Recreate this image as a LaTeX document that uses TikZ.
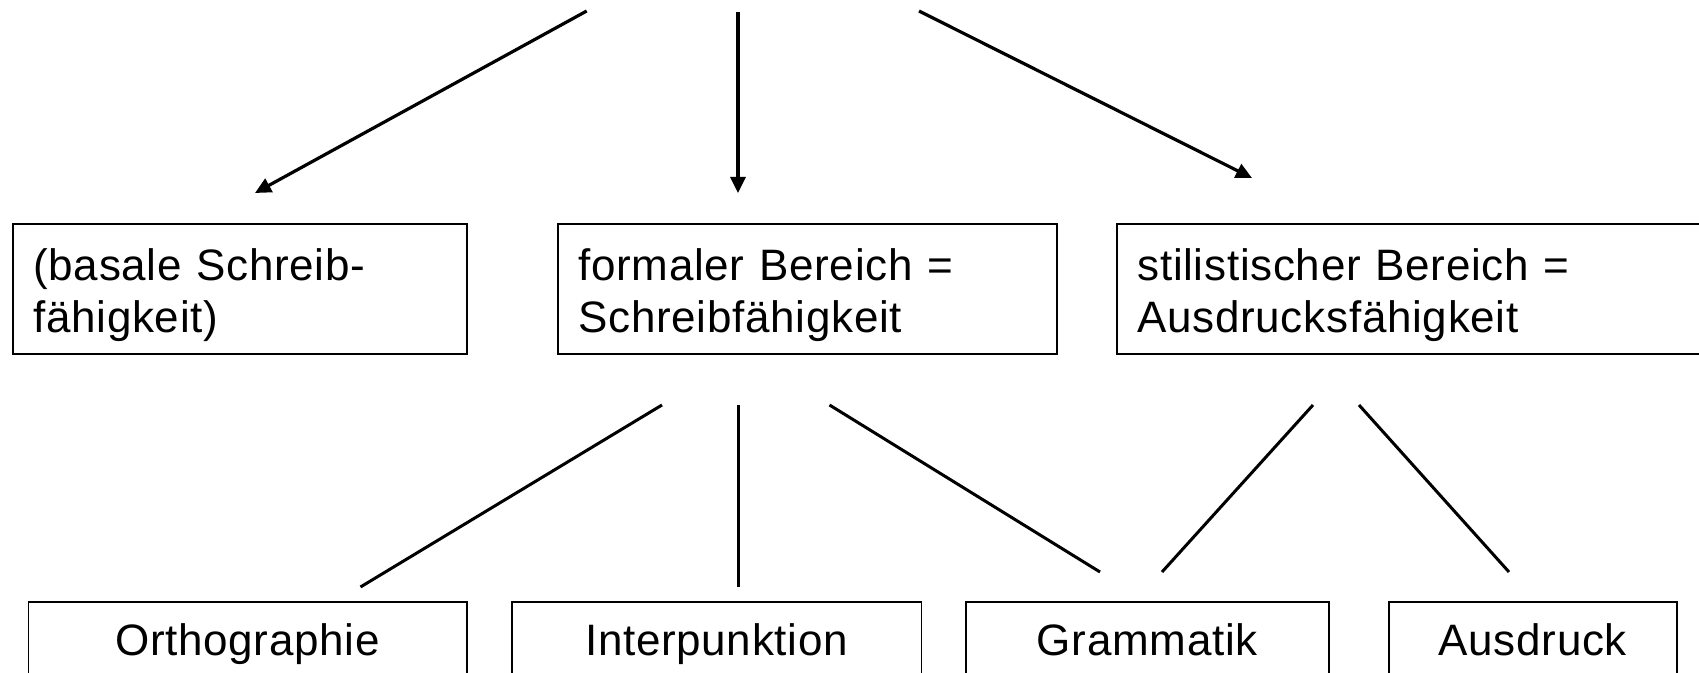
\documentclass[tikz,border=0pt]{standalone}
\usepackage{fontspec}
\setmainfont[LetterSpace=1.6]{Liberation Sans}
\usetikzlibrary{arrows.meta}
\tikzset{
  topbox/.style={draw, line width=0.8pt, anchor=north west, inner ysep=0pt, inner xsep=10.3pt,
    minimum height=65pt, text height=28.5pt, text depth=36.5pt, align=left,
    font=\fontsize{22pt}{26pt}\selectfont},
  botbox/.style={draw, line width=0.8pt, anchor=north west, inner ysep=0pt, inner xsep=0pt,
    text height=27pt, text depth=40pt, align=center,
    font=\fontsize{22pt}{26pt}\selectfont},
  arr/.style={line width=1.6pt, -{Triangle[length=8pt,width=7.5pt]}},
  link/.style={line width=1.5pt}
}
\begin{document}
\begin{tikzpicture}[x=0.5pt,y=-0.5pt]
\useasboundingbox (0,0) rectangle (1699,673);
\clip (0,0) rectangle (1699,673);
% top-level boxes
\node[topbox, text width=206.4pt] (basal) at (12,223) {(basale Schreib-\\fähigkeit)};
\node[topbox, text width=228.9pt] (formal) at (557,223) {formaler Bereich =\\Schreibfähigkeit};
\node[topbox, text width=289.4pt] (stil) at (1116,223) {stilistischer Bereich =\\Ausdrucksfähigkeit};
% bottom boxes
\node[botbox, minimum width=219.25pt] (ortho) at (27.5,601) {Orthographie};
\node[botbox, minimum width=204.75pt] (inter) at (511,601) {Interpunktion};
\node[botbox, minimum width=181.5pt] (gram) at (965,601) {Grammatik};
\node[botbox, minimum width=144pt] (ausd) at (1388,601) {Ausdruck};
% arrow end points
\coordinate (a1s) at (586.7,11);  \coordinate (a1e) at (255,193);
\coordinate (a2s) at (738,12);    \coordinate (a2e) at (738,193);
\coordinate (a3s) at (919,11);    \coordinate (a3e) at (1252,178);
\draw[arr] (a1s) -- (a1e);
\draw[arr] (a2s) -- (a2e);
\draw[arr] (a3s) -- (a3e);
% lower links
\coordinate (l1s) at (662,405);   \coordinate (l1e) at (360.5,587);
\coordinate (l2s) at (738,405);   \coordinate (l2e) at (738,587);
\coordinate (l3s) at (829.5,405); \coordinate (l3e) at (1100,572);
\coordinate (l4s) at (1313,405);  \coordinate (l4e) at (1162,572);
\coordinate (l5s) at (1359,405);  \coordinate (l5e) at (1509,572);
\draw[link] (l1s) -- (l1e);
\draw[link] (l2s) -- (l2e);
\draw[link] (l3s) -- (l3e);
\draw[link] (l4s) -- (l4e);
\draw[link] (l5s) -- (l5e);
\end{tikzpicture}
\end{document}
